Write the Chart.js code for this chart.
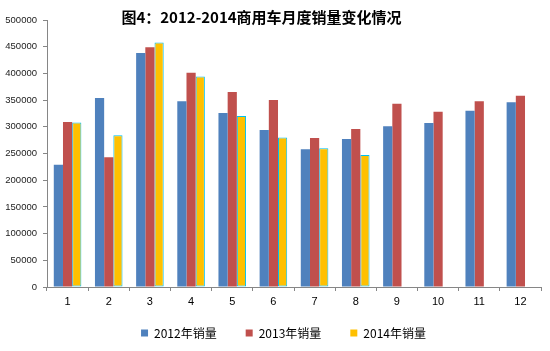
<!DOCTYPE html>
<html>
<head>
<meta charset="utf-8">
<script src="https://cdn.jsdelivr.net/npm/chart.js@4"></script>
<style>
	html, body { margin: 0; padding: 0; background: #fff; }
	#wrap { position: relative; width: 550px; height: 351px; }
</style>
</head>
<body>
<div id="wrap"><canvas id="salesChart"></canvas></div>
<script>
// 月份
const months = ['1', '2', '3', '4', '5', '6', '7', '8', '9', '10', '11', '12'];
// 各年销量
const sales2012 = [229000, 354000, 438000, 348000, 326000, 294000, 258000, 277000, 301000, 307000, 330000, 346000];
const sales2013 = [309000, 243000, 449000, 401000, 365000, 350000, 279000, 296000, 343000, 328000, 348000, 358000];
const sales2014 = [308000, 284000, 458000, 394000, 320000, 280000, 260000, 247000, null, null, null, null];
const seriesNames = ['2012年销量', '2013年销量', '2014年销量'];

const axisColor = '#868686';
const ctx = document.getElementById('salesChart').getContext('2d');

// 微调：月份标签不被裁掉，标题和图例左右挪一点
const layoutTweaks = {
	id: 'layoutTweaks',
	afterLayout(chart) {
		const x = chart.scales.x;
		x.bottom = x.top + 26;
		chart.legend.left += 11;
		chart.legend.right += 11;
		chart.titleBlock.left -= 11;
		chart.titleBlock.right -= 11;
	},
};

new Chart(ctx, {
	type: 'bar',
	data: {
		labels: months,
		datasets: [
			{ label: seriesNames[0], data: sales2012, backgroundColor: '#4F81BD', borderWidth: 0 },
			{ label: seriesNames[1], data: sales2013, backgroundColor: '#C0504D', borderWidth: 0 },
			{ label: seriesNames[2], data: sales2014, backgroundColor: '#FFC000', borderColor: '#00C0F0', borderWidth: 1, borderSkipped: false },
		],
	},
	options: {
		responsive: true,
		maintainAspectRatio: false,
		animation: false,
		layout: { padding: { left: 4, right: 9, bottom: 2 } },
		datasets: { bar: { categoryPercentage: 0.67, barPercentage: 1 } },
		plugins: {
			title: {
				display: true,
				text: '图4：2012-2014商用车月度销量变化情况',
				color: '#000',
				font: { family: 'Noto Sans CJK SC', size: 15, weight: 'bold' },
				padding: { top: 8, bottom: -6 },
			},
			legend: {
				position: 'bottom',
				labels: {
					color: '#000',
					font: { family: 'Noto Sans CJK SC', size: 12 },
					boxWidth: 7,
					boxHeight: 7,
					padding: 29,
					generateLabels(chart) {
						const items = Chart.defaults.plugins.legend.labels.generateLabels(chart);
						items.forEach(it => { it.lineWidth = 0; });
						return items;
					},
				},
			},
			tooltip: { enabled: false },
		},
		scales: {
			x: {
				grid: { drawOnChartArea: false, color: axisColor, tickLength: 4, offset: true },
				border: { color: axisColor },
				ticks: { color: '#000', font: { family: 'Liberation Sans', size: 11 }, padding: 4 },
				afterFit(scale) { scale.height = 11; },
			},
			y: {
				min: 0,
				max: 500000,
				grid: { drawOnChartArea: false, color: axisColor, tickLength: 4 },
				border: { color: axisColor },
				ticks: {
					stepSize: 50000,
					color: '#222',
					font: { family: 'Liberation Sans', size: 9.5 },
					padding: 6,
					callback: v => String(v),
				},
				afterFit(scale) { scale.width = 43; },
			},
		},
	},
	plugins: [layoutTweaks],
});
</script>
</body>
</html>
